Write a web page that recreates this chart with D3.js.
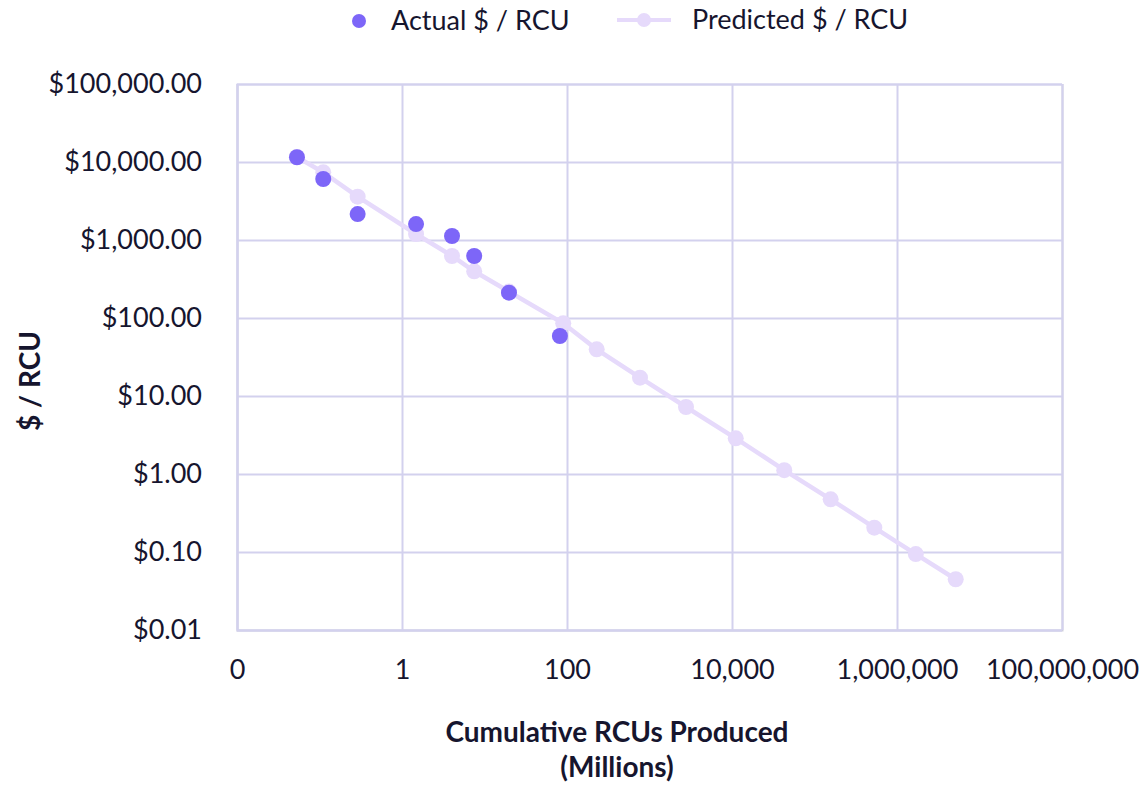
<!DOCTYPE html>
<html>
<head>
<meta charset="utf-8">
<script src="https://cdn.jsdelivr.net/npm/d3@7"></script>
<style>
  html, body { margin: 0; padding: 0; background: #fff; }
  svg { display: block; font-family: Lato, "Open Sans", sans-serif; }
</style>
</head>
<body>
<svg id="chart" width="1143" height="785"></svg>
<script>
// ---- data ----
const actualX = [0.0533, 0.111, 0.29, 1.48, 4.04, 7.5, 19.8, 82];
const actualY = [11500, 6050, 2150, 1600, 1125, 624, 211, 58.8];

const predictedX = [0.0533, 0.111, 0.29, 1.48, 4.04, 7.5, 19.8, 90, 229, 767, 2770, 11100, 43000, 157000, 531000, 1690000, 5150000];
const predictedY = [11600, 7380, 3590, 1194, 624, 397, 218, 85.5, 39.7, 17.2, 7.23, 2.87, 1.12, 0.474, 0.205, 0.094, 0.0447];

const xTickValues = [0.01, 1, 100, 10000, 1000000, 100000000];
const xTickLabels = ["0", "1", "100", "10,000", "1,000,000", "100,000,000"];
const yTickValues = [0.01, 0.1, 1, 10, 100, 1000, 10000, 100000];
const yTickLabels = ["$0.01", "$0.10", "$1.00", "$10.00", "$100.00", "$1,000.00", "$10,000.00", "$100,000.00"];

const seriesNames = ["Actual $ / RCU", "Predicted $ / RCU"];
const xTitleLines = ["Cumulative RCUs Produced", "(Millions)"];
const yTitle = "$ / RCU";

// ---- layout ----
const svg = d3.select("#chart");
const plotL = 237, plotR = 1062, plotT = 84, plotB = 630;
const actualColor = "#7d66f8";
const predColor = "#e6dafb";
const gridColor = "#d3d1ee";
const textColor = "#16152e";
const tickFont = 27;

const x = d3.scaleLog().domain([0.01, 100000000]).range([plotL, plotR]);
const y = d3.scaleLog().domain([0.01, 100000]).range([plotB, plotT]);

// grid / axes
const xAxis = d3.axisBottom(x)
  .tickValues(xTickValues)
  .tickFormat((d, i) => xTickLabels[i])
  .tickSize(-(plotB - plotT))
  .tickPadding(30);
const gx = svg.append("g").attr("transform", `translate(0,${plotB})`).call(xAxis);
gx.select(".domain").attr("stroke", "#cfcfdc").attr("stroke-width", 2);
gx.selectAll(".tick line").attr("stroke", gridColor).attr("stroke-width", 2);
gx.selectAll(".tick text").attr("fill", textColor).attr("font-size", tickFont).attr("font-family", "Lato, sans-serif");

const yAxis = d3.axisLeft(y)
  .tickValues(yTickValues)
  .tickFormat((d, i) => yTickLabels[i])
  .tickSize(-(plotR - plotL))
  .tickPadding(35);
const gy = svg.append("g").attr("transform", `translate(${plotL},0)`).call(yAxis);
gy.select(".domain").attr("stroke", gridColor).attr("stroke-width", 2);
gy.selectAll(".tick line").attr("stroke", gridColor).attr("stroke-width", 2);
gy.selectAll(".tick text").attr("fill", textColor).attr("font-size", tickFont).attr("font-family", "Lato, sans-serif");

// predicted line + markers
const predData = predictedX.map((v, i) => ({ x: v, y: predictedY[i] }));
const actData = actualX.map((v, i) => ({ x: v, y: actualY[i] }));

svg.append("path")
  .datum(predData)
  .attr("fill", "none")
  .attr("stroke", predColor)
  .attr("stroke-width", 4.5)
  .attr("d", d3.line().x(d => x(d.x)).y(d => y(d.y)));

svg.append("g").selectAll("circle").data(predData).join("circle")
  .attr("cx", d => x(d.x)).attr("cy", d => y(d.y)).attr("r", 8)
  .attr("fill", predColor);

svg.append("g").selectAll("circle").data(actData).join("circle")
  .attr("cx", d => x(d.x)).attr("cy", d => y(d.y)).attr("r", 8)
  .attr("fill", actualColor);

// axis titles
svg.append("g").selectAll("text").data(xTitleLines).join("text")
  .attr("x", 617).attr("y", (d, i) => 742 + i * 35)
  .attr("text-anchor", "middle")
  .attr("font-size", 28).attr("font-weight", 700).attr("fill", textColor)
  .text(d => d);

svg.append("text")
  .attr("transform", "translate(40,381) rotate(-90)")
  .attr("text-anchor", "middle")
  .attr("font-size", 28).attr("font-weight", 700).attr("fill", textColor)
  .text(yTitle);

// legend
const lg = svg.append("g");
lg.append("circle").attr("cx", 359).attr("cy", 21).attr("r", 7).attr("fill", actualColor);
lg.append("text").attr("x", 391).attr("y", 30).attr("font-size", tickFont).attr("fill", textColor).text(seriesNames[0]);
lg.append("line").attr("x1", 617).attr("x2", 671).attr("y1", 20).attr("y2", 20)
  .attr("stroke", predColor).attr("stroke-width", 4);
lg.append("circle").attr("cx", 644).attr("cy", 20).attr("r", 7).attr("fill", predColor);
lg.append("text").attr("x", 692).attr("y", 29).attr("font-size", tickFont).attr("fill", textColor).text(seriesNames[1]);
</script>
</body>
</html>
